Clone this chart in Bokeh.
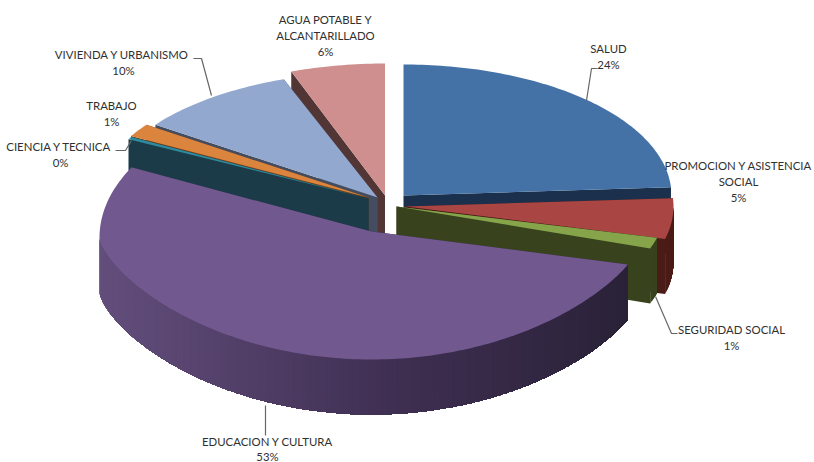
import math
from bokeh.plotting import figure
from bokeh.models import ColumnDataSource, Range1d
from bokeh.embed import file_html
from bokeh.resources import INLINE
from bokeh.core.properties import value

# Data (clockwise from 12 o'clock)
categories = ["SALUD", "PROMOCION Y ASISTENCIA SOCIAL", "SEGURIDAD SOCIAL", "EDUCACION Y CULTURA",
              "CIENCIA Y TECNICA", "TRABAJO", "VIVIENDA  Y URBANISMO", "AGUA POTABLE Y ALCANTARILLADO"]
shares = [24.0, 5.0, 1.4, 52.4, 0.3, 1.7, 9.6, 5.6]

# Exploded-pie layout: apex, ellipse centre y, radii (perspective differs per slice)
apex_x = [403, 405, 396, 371, 368, 368, 377, 384.5]
apex_y = [195, 206, 206, 231, 198, 197, 197, 195]
ell_y = [195, 206, 206, 237, 198, 197, 197, 195]
rad_x = [268, 268, 269, 272, 272, 272, 272, 272]
rad_back = [131, 131, 126, 149, 126, 126, 126, 132]
rad_front = [131, 131, 126, 122, 126, 126, 126, 131]
front_pow = [1, 1, 1, 1.37, 1, 1, 1, 1]
depth = 55
top_col = ["#4472A6", "#A94543", "#86A44A", "#71588F", "#2E8A9E", "#DB843D", "#92A8CE", "#CF8F8F"]
wall_col = ["#1A304C", "#4A1B17", "#38431E", "#2E2640", "#1A3B47", "#6A3E1A", "#444C60", "#523535"]
paint_order = [0, 7, 6, 5, 4, 1, 2, 3]

# Labels: text lines, centre x, first line y
label_lines = [["SALUD", "24%"], ["PROMOCION Y ASISTENCIA", "SOCIAL", "5%"], ["SEGURIDAD SOCIAL", "1%"],
               ["EDUCACION Y CULTURA", "53%"], ["CIENCIA  Y TECNICA", "0%"], ["TRABAJO", "1%"],
               ["VIVIENDA  Y URBANISMO", "10%"], ["AGUA POTABLE Y", "ALCANTARILLADO", "6%"]]
label_x = [608, 738, 731, 267, 60, 111, 123, 325]
label_y = [48, 165, 329, 441, 146, 105, 54, 19]
leaders = [([586, 591, 597], [100, 68, 68]), ([655, 671, 677], [296, 333, 333]), ([265, 265], [405, 435]),
           ([131, 125, 115], [140, 150, 150]), ([211, 201, 193], [95, 58, 58])]


def pt(i, deg):
    r = math.radians(deg)
    c = math.cos(r)
    if c >= 0:
        y = ell_y[i] - rad_back[i] * c
    else:
        y = ell_y[i] + rad_front[i] * abs(c) ** front_pow[i]
    return apex_x[i] + rad_x[i] * math.sin(r), y


def mix(a, b, f):
    ca = [int(a[k:k + 2], 16) for k in (1, 3, 5)]
    cb = [int(b[k:k + 2], 16) for k in (1, 3, 5)]
    return "#%02x%02x%02x" % tuple(round(u + (v - u) * f) for u, v in zip(ca, cb))


def wall_shade(i, x):
    if i != 3:
        return wall_col[i]
    if x < 390:
        return mix("#634E7C", "#3F2F52", max(0, (x - 100) / 290))
    return mix("#3F2F52", "#2A2238", min(1, (x - 390) / 235))


xs, ys, fills = [], [], []


def add(px, py, col):
    xs.append(px)
    ys.append(py)
    fills.append(col)


starts = []
run = 0.0
for s in shares:
    starts.append(run)
    run += s
total = run

for i in paint_order:
    a0 = starts[i] / total * 360
    a1 = (starts[i] + shares[i]) / total * 360
    ax, ay = apex_x[i], apex_y[i]
    # radial cut faces
    for a in (a0, a1):
        x, y = pt(i, a)
        add([ax, x, x, ax], [ay, y, y + depth, ay + depth], wall_col[i])
    # outer curved wall (front half only); each shorter piece is painted over the longer one
    lo, hi = max(a0, 90), min(a1, 270)
    if hi > lo:
        n = max(2, int((hi - lo) / 1.0))
        for k in range(n, 0, -1):
            pts = [pt(i, lo + (hi - lo) * j / n) for j in range(0, k + 1)]
            add([q[0] for q in pts] + [q[0] for q in reversed(pts)],
                [q[1] for q in pts] + [q[1] + depth for q in reversed(pts)],
                wall_shade(i, pts[-1][0]))
    # top face
    n = max(2, int((a1 - a0) / 1.0))
    arc = [pt(i, a0 + (a1 - a0) * k / n) for k in range(n + 1)]
    add([ax] + [q[0] for q in arc], [ay] + [q[1] for q in arc], top_col[i])

p = figure(width=814, height=462, x_range=Range1d(0, 814), y_range=Range1d(462, 0),
           output_backend="svg", toolbar_location=None, min_border=0,
           background_fill_color="white", border_fill_color="white", outline_line_color=None)
p.axis.visible = False
p.grid.visible = False

p.patches("xs", "ys", source=ColumnDataSource(dict(xs=xs, ys=ys, c=fills)),
          fill_color="c", line_color=None)

for lx, ly in leaders:
    p.line(lx, ly, line_color="#666666", line_width=1.2)

tx, ty, tt = [], [], []
for lines, x, y in zip(label_lines, label_x, label_y):
    for k, t in enumerate(lines):
        tx.append(x)
        ty.append(y + (15 if y == 441 else 16) * k)
        tt.append(t)
p.text(tx, ty, tt, text_font=value("Lato"), text_font_size="11.4px", text_color="#303030",
       text_align="center", text_baseline="middle")

open("out.html", "w").write(file_html(p, INLINE))
